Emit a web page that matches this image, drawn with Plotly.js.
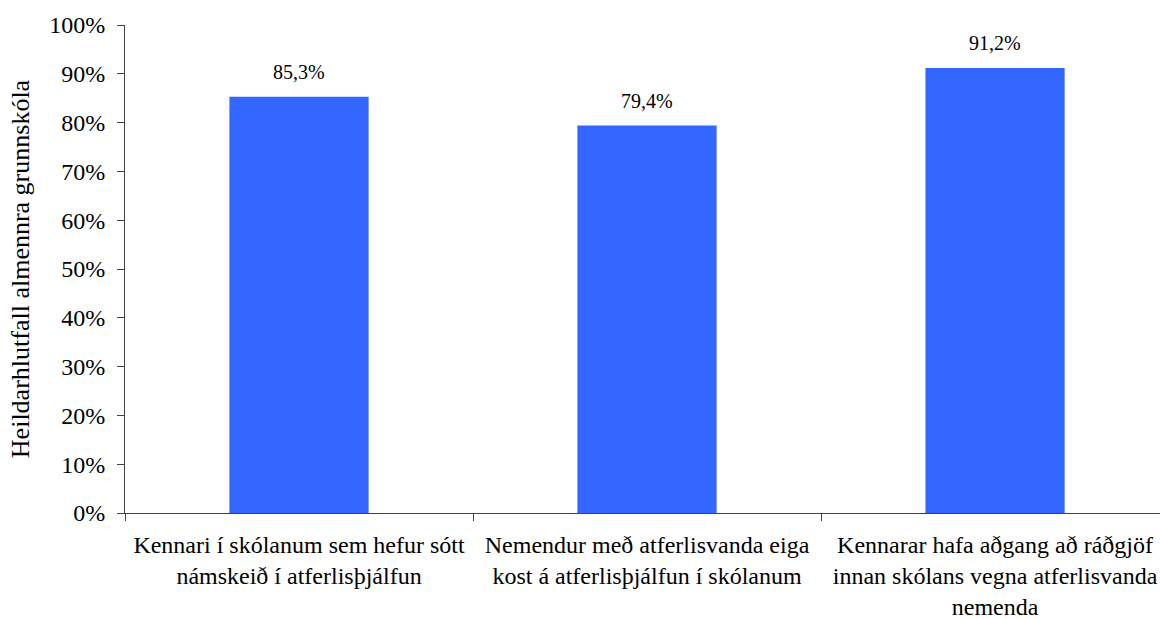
<!DOCTYPE html>
<html>
<head>
<meta charset="utf-8">
<script src="https://cdn.plot.ly/plotly-3.0.1.min.js"></script>
<style>
html,body{margin:0;padding:0;background:#fff;}
#chart{width:1160px;height:619px;}
</style>
</head>
<body>
<div id="chart"></div>
<script>
const categories = [
  "Kennari í skólanum sem hefur sótt<br>námskeið í atferlisþjálfun",
  "Nemendur með atferlisvanda eiga<br>kost á atferlisþjálfun í skólanum",
  "Kennarar hafa aðgang að ráðgjöf<br>innan skólans vegna atferlisvanda<br>nemenda"
];
const values = [85.3, 79.4, 91.2];
const yTitle = "Heildarhlutfall almennra grunnskóla";

const fontFam = "Liberation Serif, Times New Roman, serif";

const trace = {
  type: 'bar',
  x: categories,
  y: values,
  width: 0.4,
  marker: {color: '#3366FF', line: {width: 0}},
  hoverinfo: 'skip'
};

const annotations = categories.map((c, i) => ({
  x: c, y: values[i], xref: 'x', yref: 'y',
  text: values[i].toFixed(1).replace('.', ',') + '%',
  showarrow: false, yanchor: 'bottom', yshift: 12,
  font: {family: fontFam, size: 20, color: '#000'}
}));

const layout = {
  width: 1160, height: 619,
  margin: {l: 125, r: 0, t: 25, b: 106},
  paper_bgcolor: '#fff', plot_bgcolor: '#fff',
  separators: ',.',
  showlegend: false,
  font: {family: fontFam, size: 24, color: '#000'},
  xaxis: {
    type: 'category',
    range: [-0.5, 2.474],
    tickson: 'boundaries',
    ticks: 'outside', ticklen: 7, tickcolor: '#444', tickwidth: 1,
    showline: true, linecolor: '#444', linewidth: 1,
    showgrid: false, zeroline: false,
    tickfont: {family: fontFam, size: 24, color: '#000'},
    ticklabelstandoff: 10,
    automargin: false
  },
  yaxis: {
    range: [0, 100], dtick: 10, ticksuffix: '%',
    ticks: 'outside', ticklen: 7, tickcolor: '#444', tickwidth: 1,
    showline: true, linecolor: '#444', linewidth: 1,
    showgrid: false, zeroline: false,
    tickfont: {family: fontFam, size: 24, color: '#000'},
    ticklabelstandoff: 7,
    title: {text: yTitle, font: {family: fontFam, size: 26, color: '#000'}, standoff: 12},
    automargin: false
  },
  annotations: annotations
};

Plotly.newPlot('chart', [trace], layout, {displayModeBar: false, staticPlot: true});
</script>
</body>
</html>
